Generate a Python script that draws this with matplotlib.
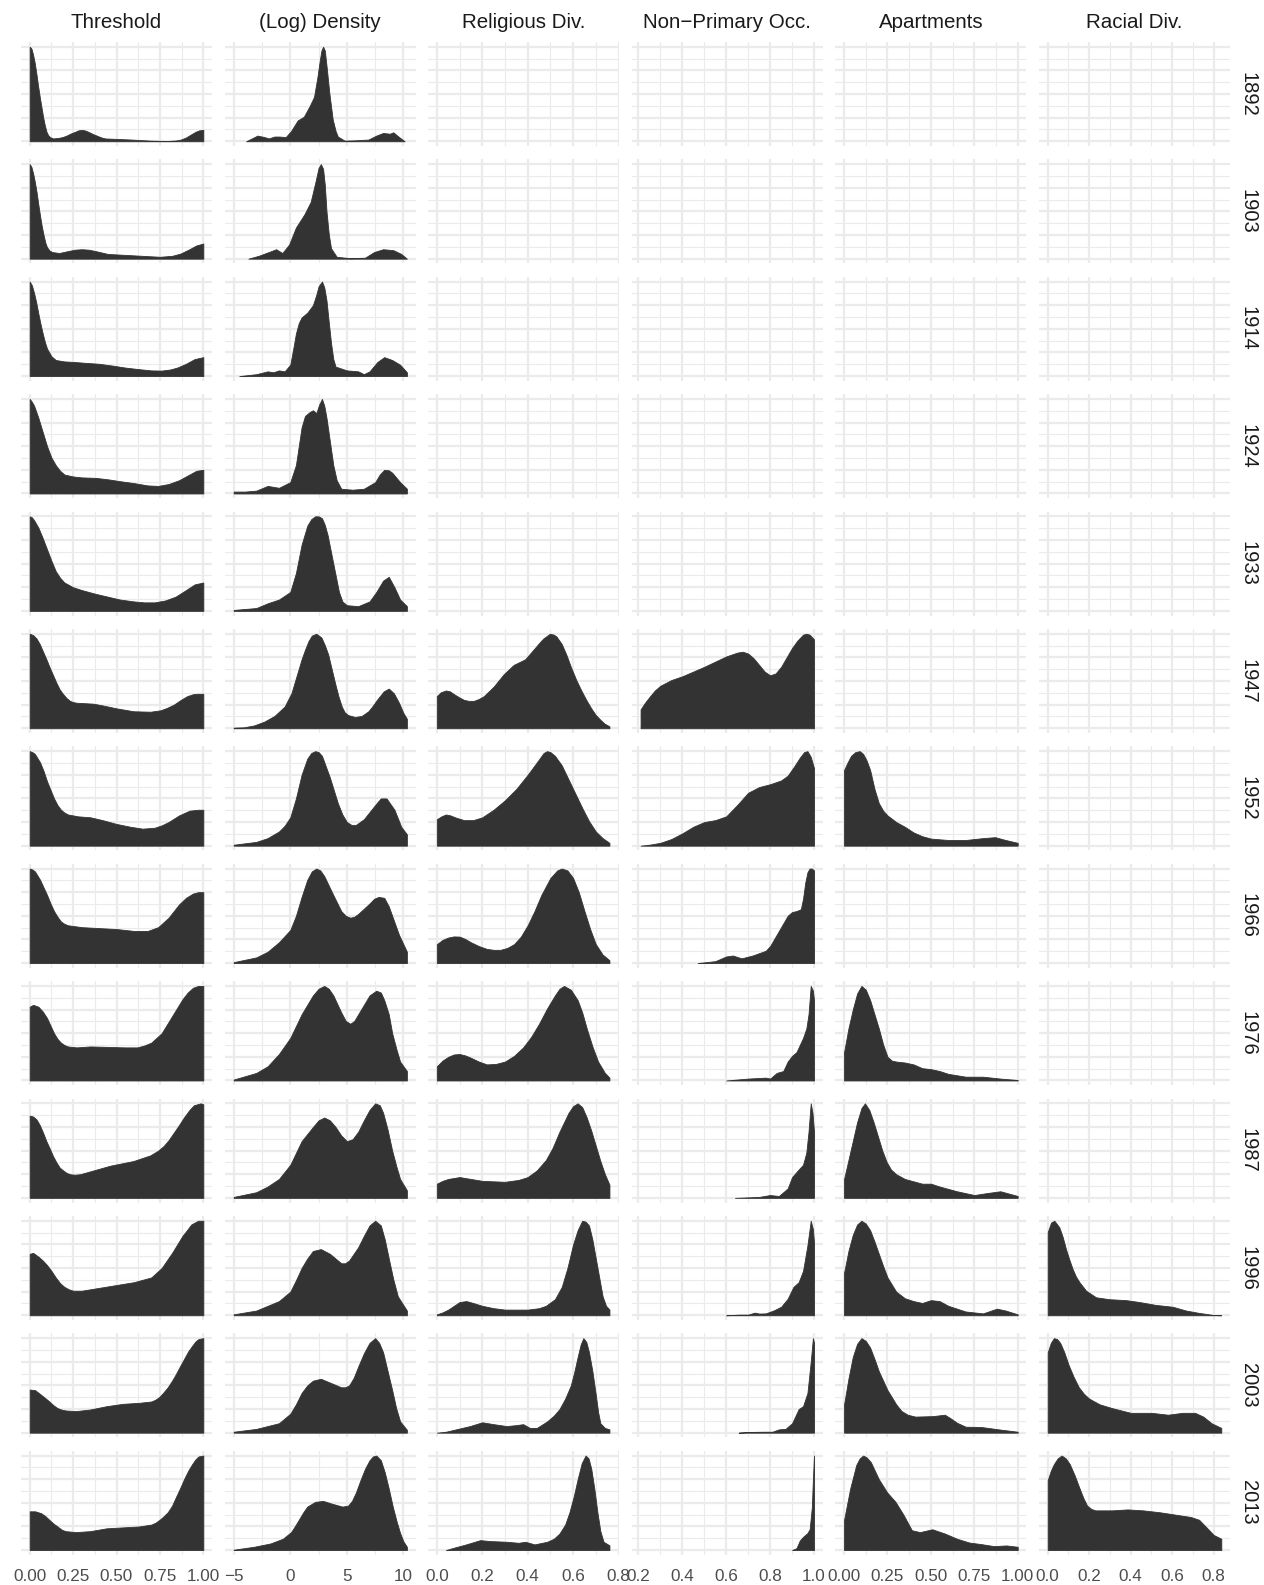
import numpy as np
import matplotlib.pyplot as plt

plt.rcParams['font.family'] = ['Liberation Sans', 'DejaVu Sans']

# %% facet labels
columns = ["Threshold", "(Log) Density", "Religious Div.", "Non\u2212Primary Occ.", "Apartments", "Racial Div."]
years = ["1892", "1903", "1914", "1924", "1933", "1947", "1952", "1966", "1976", "1987", "1996", "2003", "2013"]

# %% scaled densities, (x, y) pairs, max = 1
thr_1892 = [(0, 1.0), (0.01, 0.98), (0.019, 0.92), (0.029, 0.83), (0.039, 0.71), (0.048, 0.59), (0.058, 0.47),
            (0.068, 0.36), (0.077, 0.26), (0.087, 0.17), (0.097, 0.10), (0.106, 0.066), (0.116, 0.045),
            (0.135, 0.03), (0.164, 0.035), (0.19, 0.045), (0.212, 0.06), (0.24, 0.085), (0.261, 0.10),
            (0.28, 0.115), (0.299, 0.12), (0.318, 0.115), (0.338, 0.10), (0.36, 0.08), (0.386, 0.06),
            (0.41, 0.042), (0.434, 0.03), (0.502, 0.025), (0.598, 0.017), (0.695, 0.007), (0.792, 0.003),
            (0.84, 0.008), (0.869, 0.017), (0.9, 0.04), (0.927, 0.07), (0.955, 0.1), (0.975, 0.115), (1.0, 0.12)]
thr_1903 = [(0, 1.0), (0.01, 0.97), (0.02, 0.9), (0.03, 0.81), (0.04, 0.7), (0.05, 0.57), (0.06, 0.45),
            (0.07, 0.34), (0.08, 0.25), (0.09, 0.17), (0.1, 0.12), (0.115, 0.085), (0.13, 0.07), (0.17, 0.06),
            (0.22, 0.08), (0.26, 0.095), (0.3, 0.1), (0.34, 0.095), (0.38, 0.08), (0.45, 0.05), (0.55, 0.04),
            (0.65, 0.03), (0.75, 0.02), (0.82, 0.03), (0.87, 0.055), (0.92, 0.1), (0.96, 0.14), (1.0, 0.16)]
thr_1914 = [(0, 1.0), (0.0125, 0.96), (0.025, 0.88), (0.0375, 0.78), (0.05, 0.66), (0.0625, 0.55), (0.075, 0.45),
            (0.0875, 0.36), (0.1, 0.29), (0.125, 0.21), (0.15, 0.17), (0.2, 0.155), (0.25, 0.15), (0.32, 0.14),
            (0.4, 0.13), (0.48, 0.11), (0.55, 0.09), (0.62, 0.075), (0.7, 0.06), (0.76, 0.058), (0.81, 0.07),
            (0.85, 0.09), (0.9, 0.13), (0.95, 0.18), (1.0, 0.2)]
thr_1924 = [(0, 1.0), (0.0125, 0.97), (0.025, 0.93), (0.05, 0.8), (0.075, 0.65), (0.1, 0.5), (0.125, 0.38),
            (0.15, 0.3), (0.175, 0.24), (0.2, 0.2), (0.25, 0.18), (0.3, 0.17), (0.38, 0.165), (0.45, 0.15),
            (0.52, 0.13), (0.6, 0.11), (0.68, 0.085), (0.74, 0.08), (0.8, 0.1), (0.86, 0.14), (0.92, 0.2),
            (0.96, 0.24), (1.0, 0.25)]
thr_1933 = [(0, 1.0), (0.0125, 0.99), (0.025, 0.96), (0.05, 0.88), (0.075, 0.77), (0.1, 0.65), (0.125, 0.53),
            (0.15, 0.42), (0.175, 0.35), (0.2, 0.3), (0.25, 0.25), (0.3, 0.22), (0.38, 0.18), (0.45, 0.15),
            (0.52, 0.12), (0.6, 0.1), (0.66, 0.09), (0.72, 0.09), (0.78, 0.11), (0.84, 0.15), (0.9, 0.22),
            (0.95, 0.28), (1.0, 0.3)]
thr_1947 = [(0, 1.0), (0.02, 0.985), (0.039, 0.95), (0.058, 0.89), (0.077, 0.81), (0.096, 0.73), (0.116, 0.64),
            (0.135, 0.56), (0.154, 0.48), (0.173, 0.41), (0.193, 0.36), (0.212, 0.32), (0.232, 0.29),
            (0.25, 0.277), (0.27, 0.27), (0.32, 0.265), (0.367, 0.26), (0.425, 0.24), (0.502, 0.21),
            (0.598, 0.18), (0.695, 0.175), (0.753, 0.19), (0.79, 0.215), (0.83, 0.25), (0.87, 0.3),
            (0.907, 0.34), (0.94, 0.36), (0.965, 0.365), (1.0, 0.365)]
thr_1952 = [(0, 1.0), (0.015, 0.99), (0.03, 0.97), (0.06, 0.88), (0.08, 0.79), (0.1, 0.68), (0.12, 0.59),
            (0.14, 0.5), (0.16, 0.43), (0.18, 0.38), (0.2, 0.35), (0.22, 0.33), (0.28, 0.31), (0.35, 0.3),
            (0.42, 0.27), (0.5, 0.23), (0.58, 0.2), (0.65, 0.18), (0.72, 0.19), (0.76, 0.215), (0.8, 0.25),
            (0.86, 0.32), (0.92, 0.37), (0.97, 0.38), (1.0, 0.38)]
thr_1966 = [(0, 1.0), (0.015, 0.99), (0.03, 0.97), (0.06, 0.88), (0.08, 0.8), (0.1, 0.72), (0.12, 0.63),
            (0.14, 0.55), (0.16, 0.49), (0.18, 0.44), (0.2, 0.415), (0.22, 0.4), (0.3, 0.38), (0.4, 0.37),
            (0.5, 0.36), (0.6, 0.34), (0.68, 0.34), (0.74, 0.38), (0.8, 0.48), (0.86, 0.62), (0.9, 0.69),
            (0.94, 0.735), (0.97, 0.75), (1.0, 0.75)]
thr_1976 = [(0, 0.78), (0.02, 0.8), (0.05, 0.78), (0.075, 0.73), (0.1, 0.66), (0.12, 0.58), (0.14, 0.5),
            (0.16, 0.44), (0.18, 0.4), (0.2, 0.375), (0.22, 0.36), (0.27, 0.35), (0.35, 0.36), (0.45, 0.355),
            (0.55, 0.35), (0.62, 0.35), (0.66, 0.37), (0.7, 0.4), (0.76, 0.5), (0.82, 0.68), (0.88, 0.86),
            (0.91, 0.93), (0.94, 0.98), (0.97, 1.0), (1.0, 1.0)]
thr_1987 = [(0, 0.87), (0.02, 0.86), (0.039, 0.83), (0.058, 0.77), (0.077, 0.69), (0.096, 0.6), (0.116, 0.52),
            (0.135, 0.44), (0.154, 0.375), (0.173, 0.32), (0.193, 0.29), (0.212, 0.265), (0.232, 0.25),
            (0.26, 0.245), (0.29, 0.25), (0.367, 0.29), (0.463, 0.34), (0.598, 0.39), (0.695, 0.45),
            (0.74, 0.5), (0.772, 0.55), (0.8, 0.61), (0.83, 0.69), (0.86, 0.77), (0.888, 0.85), (0.92, 0.93),
            (0.946, 0.98), (0.985, 1.0), (1.0, 0.99)]
thr_1996 = [(0, 0.65), (0.02, 0.66), (0.05, 0.62), (0.075, 0.58), (0.1, 0.53), (0.125, 0.47), (0.15, 0.4),
            (0.175, 0.34), (0.2, 0.3), (0.225, 0.275), (0.25, 0.26), (0.3, 0.26), (0.4, 0.29), (0.5, 0.32),
            (0.6, 0.35), (0.7, 0.4), (0.76, 0.5), (0.82, 0.66), (0.88, 0.84), (0.91, 0.91), (0.93, 0.96),
            (0.97, 1.0), (1.0, 1.0)]
thr_2003 = [(0, 0.456), (0.031, 0.45), (0.066, 0.40), (0.09, 0.365), (0.113, 0.33), (0.137, 0.29), (0.16, 0.26),
            (0.185, 0.243), (0.207, 0.235), (0.266, 0.228), (0.348, 0.245), (0.442, 0.28), (0.536, 0.305),
            (0.631, 0.316), (0.701, 0.33), (0.725, 0.35), (0.748, 0.38), (0.77, 0.425), (0.795, 0.48),
            (0.82, 0.55), (0.842, 0.62), (0.865, 0.7), (0.889, 0.78), (0.913, 0.86), (0.936, 0.92),
            (0.955, 0.965), (0.972, 0.99), (1.0, 1.0)]
thr_2013 = [(0, 0.41), (0.031, 0.41), (0.066, 0.39), (0.09, 0.36), (0.113, 0.32), (0.137, 0.28), (0.16, 0.25),
            (0.185, 0.215), (0.207, 0.2), (0.266, 0.19), (0.348, 0.2), (0.442, 0.23), (0.536, 0.24),
            (0.631, 0.25), (0.701, 0.27), (0.725, 0.29), (0.748, 0.32), (0.77, 0.355), (0.795, 0.40),
            (0.82, 0.47), (0.842, 0.56), (0.865, 0.65), (0.889, 0.75), (0.913, 0.84), (0.936, 0.91),
            (0.955, 0.96), (0.972, 0.99), (1.0, 1.0)]

ld_1892 = [(-3.9, 0.0), (-3.4, 0.03), (-2.9, 0.06), (-2.3, 0.045), (-1.9, 0.03), (-1.4, 0.05), (-1.0, 0.05),
           (-0.4, 0.045), (0.05, 0.105), (0.65, 0.22), (1.2, 0.26), (1.7, 0.37), (2.1, 0.47), (2.4, 0.68),
           (2.6, 0.85), (2.75, 0.96), (2.9, 1.0), (3.05, 0.96), (3.2, 0.8), (3.45, 0.51), (3.75, 0.23),
           (4.0, 0.11), (4.2, 0.05), (4.8, 0.007), (5.7, 0.01), (6.9, 0.018), (7.6, 0.06), (8.2, 0.088),
           (8.8, 0.08), (9.1, 0.095), (9.55, 0.05), (10.1, 0.0)]
ld_1903 = [(-3.7, 0.0), (-2.8, 0.03), (-1.9, 0.07), (-1.25, 0.1), (-0.7, 0.06), (-0.1, 0.15), (0.5, 0.33),
           (1.25, 0.47), (1.8, 0.6), (2.2, 0.8), (2.5, 0.96), (2.7, 1.0), (2.9, 0.95), (3.05, 0.78), (3.2, 0.5),
           (3.4, 0.26), (3.6, 0.11), (4.1, 0.02), (5.3, 0.005), (6.6, 0.01), (7.4, 0.07), (8.2, 0.1), (9.1, 0.09),
           (9.8, 0.05), (10.3, 0.0)]
ld_1914 = [(-4.5, 0.0), (-3, 0.02), (-2, 0.05), (-1.5, 0.04), (-1, 0.06), (-0.5, 0.05), (0, 0.12), (0.25, 0.28),
           (0.5, 0.45), (0.75, 0.56), (1.0, 0.62), (1.5, 0.67), (2.0, 0.75), (2.3, 0.86), (2.5, 0.95), (2.8, 1.0),
           (3.0, 0.94), (3.2, 0.8), (3.4, 0.57), (3.6, 0.35), (3.8, 0.18), (4.0, 0.1), (5.0, 0.06), (6.0, 0.05),
           (6.5, 0.02), (7.0, 0.05), (7.7, 0.15), (8.3, 0.2), (9.0, 0.17), (9.7, 0.12), (10.3, 0.04)]
ld_1924 = [(-5, 0.02), (-4, 0.02), (-3, 0.03), (-2, 0.08), (-1, 0.06), (0, 0.12), (0.5, 0.3), (0.75, 0.5),
           (1.0, 0.7), (1.3, 0.82), (1.7, 0.86), (2.0, 0.88), (2.3, 0.85), (2.55, 0.94), (2.8, 1.0), (3.0, 0.93),
           (3.2, 0.8), (3.5, 0.55), (3.8, 0.3), (4.1, 0.14), (4.5, 0.05), (5.5, 0.04), (6.5, 0.05), (7.5, 0.12),
           (7.9, 0.2), (8.3, 0.25), (8.7, 0.245), (9.0, 0.22), (9.7, 0.12), (10.3, 0.05)]
ld_1933 = [(-5, 0.01), (-3, 0.03), (-2, 0.08), (-1, 0.12), (0, 0.2), (0.5, 0.4), (1, 0.7), (1.5, 0.9),
           (1.85, 0.97), (2.2, 1.0), (2.5, 1.0), (2.8, 0.98), (3.05, 0.91), (3.3, 0.8), (3.8, 0.5), (4.3, 0.2),
           (4.6, 0.1), (5, 0.06), (6, 0.05), (7, 0.1), (7.6, 0.2), (8.2, 0.32), (8.7, 0.36), (9.2, 0.25),
           (9.7, 0.12), (10.3, 0.05)]
ld_1947 = [(-5, 0.007), (-4.1, 0.01), (-3.2, 0.03), (-2.3, 0.07), (-1.4, 0.13), (-0.5, 0.23), (0.1, 0.37),
           (0.4, 0.49), (0.7, 0.61), (1.0, 0.73), (1.3, 0.83), (1.6, 0.92), (1.9, 0.98), (2.3, 1.0), (2.75, 0.96),
           (3.05, 0.88), (3.35, 0.78), (3.65, 0.63), (3.95, 0.48), (4.25, 0.34), (4.55, 0.23), (4.8, 0.17),
           (5.1, 0.14), (5.7, 0.12), (6.3, 0.13), (6.9, 0.18), (7.3, 0.24), (7.65, 0.30), (8.25, 0.39),
           (8.7, 0.42), (9.15, 0.37), (9.6, 0.27), (10.0, 0.16), (10.3, 0.1)]
ld_1952 = [(-5, 0.01), (-3, 0.04), (-2, 0.08), (-1, 0.15), (-0.5, 0.21), (0, 0.3), (0.5, 0.5), (1, 0.75),
           (1.5, 0.92), (1.85, 0.98), (2.2, 1.0), (2.5, 0.99), (2.8, 0.95), (3.5, 0.72), (4.2, 0.45), (4.6, 0.33),
           (5, 0.25), (5.4, 0.22), (5.8, 0.22), (6.5, 0.28), (7.3, 0.4), (7.7, 0.46), (8, 0.5), (8.5, 0.5),
           (9.2, 0.38), (9.8, 0.2), (10.3, 0.12)]
ld_1966 = [(-5, 0.01), (-3, 0.06), (-2, 0.12), (-1, 0.22), (0, 0.35), (0.5, 0.5), (1, 0.7), (1.5, 0.88),
           (1.9, 0.97), (2.3, 1.0), (2.65, 0.98), (3, 0.92), (3.8, 0.72), (4.5, 0.55), (4.9, 0.5), (5.3, 0.48),
           (5.65, 0.49), (6, 0.52), (7, 0.63), (7.4, 0.68), (7.8, 0.7), (8.3, 0.69), (8.7, 0.6), (9, 0.5),
           (9.6, 0.3), (10.3, 0.12)]
ld_1976 = [(-5, 0.01), (-3, 0.08), (-2, 0.15), (-1, 0.28), (0, 0.45), (1, 0.7), (2, 0.9), (2.5, 0.97), (3, 1.0),
           (3.4, 0.97), (3.8, 0.9), (4.5, 0.72), (4.9, 0.63), (5.3, 0.6), (5.65, 0.63), (6, 0.7), (7, 0.9),
           (7.6, 0.95), (8.0, 0.93), (8.3, 0.85), (8.7, 0.7), (9, 0.5), (9.4, 0.32), (9.7, 0.2), (10.3, 0.1)]
ld_1987 = [(-5, 0.01), (-3, 0.06), (-2, 0.12), (-1, 0.2), (0, 0.35), (1, 0.6), (2, 0.75), (2.5, 0.82), (3, 0.85),
           (3.5, 0.82), (4, 0.75), (4.5, 0.66), (5, 0.6), (5.5, 0.62), (6, 0.7), (6.5, 0.82), (7, 0.93), (7.5, 1.0),
           (7.9, 0.98), (8.2, 0.9), (8.6, 0.72), (9, 0.5), (9.4, 0.32), (9.7, 0.2), (10.3, 0.08)]
ld_1996 = [(-5, 0.01), (-3, 0.05), (-1, 0.15), (0, 0.25), (0.5, 0.37), (1, 0.5), (1.5, 0.6), (2, 0.68),
           (2.7, 0.7), (3.5, 0.65), (4.5, 0.55), (4.85, 0.55), (5.2, 0.58), (6, 0.72), (6.5, 0.84), (7, 0.95),
           (7.5, 1.0), (8, 0.95), (8.35, 0.8), (8.7, 0.6), (9.1, 0.38), (9.5, 0.2), (10.3, 0.05)]
ld_2003 = [(-5, 0.01), (-3, 0.04), (-1, 0.1), (0, 0.2), (0.5, 0.3), (1, 0.42), (1.5, 0.5), (2, 0.55), (2.7, 0.57),
           (3.5, 0.53), (4.5, 0.48), (4.85, 0.48), (5.2, 0.5), (5.6, 0.58), (6, 0.7), (6.5, 0.84), (7, 0.95),
           (7.5, 1.0), (7.85, 0.95), (8.2, 0.85), (8.6, 0.65), (9, 0.45), (9.35, 0.26), (9.7, 0.12), (10.3, 0.03)]
ld_2013 = [(-5, 0.004), (-3.2, 0.035), (-1.75, 0.07), (-0.65, 0.12), (0.07, 0.19), (0.45, 0.26), (0.8, 0.33),
           (1.15, 0.4), (1.5, 0.46), (2.2, 0.51), (2.9, 0.52), (3.7, 0.49), (4.6, 0.46), (5.1, 0.47), (5.45, 0.52),
           (5.8, 0.61), (6.2, 0.74), (6.6, 0.86), (7.0, 0.95), (7.3, 0.99), (7.6, 1.0), (8.0, 0.95), (8.35, 0.82),
           (8.7, 0.65), (9.05, 0.46), (9.4, 0.30), (9.7, 0.18), (10.0, 0.09), (10.3, 0.035)]

rel_1947 = [(0, 0.34), (0.017, 0.38), (0.04, 0.40), (0.058, 0.39), (0.076, 0.36), (0.1, 0.325), (0.12, 0.30),
            (0.14, 0.29), (0.163, 0.29), (0.185, 0.31), (0.207, 0.34), (0.25, 0.44), (0.294, 0.57), (0.338, 0.67),
            (0.389, 0.73), (0.425, 0.83), (0.45, 0.9), (0.469, 0.95), (0.498, 1.0), (0.515, 0.99), (0.527, 0.97),
            (0.55, 0.89), (0.57, 0.78), (0.59, 0.65), (0.614, 0.51), (0.636, 0.4), (0.658, 0.30), (0.68, 0.21),
            (0.70, 0.14), (0.72, 0.09), (0.738, 0.05), (0.76, 0.02)]
rel_1952 = [(0, 0.28), (0.02, 0.31), (0.04, 0.33), (0.06, 0.32), (0.08, 0.3), (0.12, 0.27), (0.16, 0.27),
            (0.2, 0.3), (0.25, 0.38), (0.3, 0.48), (0.35, 0.6), (0.4, 0.75), (0.44, 0.88), (0.47, 0.98),
            (0.485, 1.0), (0.5, 0.99), (0.52, 0.95), (0.55, 0.85), (0.58, 0.7), (0.61, 0.55), (0.64, 0.4),
            (0.67, 0.26), (0.7, 0.15), (0.73, 0.08), (0.76, 0.03)]
rel_1966 = [(0, 0.2), (0.025, 0.245), (0.05, 0.27), (0.075, 0.282), (0.1, 0.28), (0.125, 0.255), (0.15, 0.22),
            (0.185, 0.18), (0.22, 0.15), (0.25, 0.14), (0.28, 0.14), (0.31, 0.16), (0.34, 0.2), (0.37, 0.28),
            (0.4, 0.4), (0.43, 0.55), (0.46, 0.72), (0.5, 0.9), (0.53, 0.98), (0.55, 1.0), (0.575, 0.98),
            (0.6, 0.9), (0.625, 0.75), (0.65, 0.55), (0.675, 0.36), (0.7, 0.2), (0.73, 0.09), (0.76, 0.03)]
rel_1976 = [(0, 0.15), (0.025, 0.21), (0.05, 0.25), (0.075, 0.275), (0.1, 0.28), (0.125, 0.265), (0.15, 0.24),
            (0.185, 0.2), (0.22, 0.17), (0.26, 0.175), (0.3, 0.2), (0.34, 0.26), (0.38, 0.35), (0.415, 0.46),
            (0.45, 0.6), (0.485, 0.76), (0.52, 0.9), (0.54, 0.97), (0.56, 1.0), (0.59, 0.96), (0.62, 0.85),
            (0.64, 0.72), (0.66, 0.55), (0.685, 0.36), (0.71, 0.2), (0.74, 0.08), (0.76, 0.03)]
rel_1987 = [(0, 0.15), (0.025, 0.18), (0.05, 0.2), (0.1, 0.22), (0.15, 0.2), (0.2, 0.18), (0.3, 0.17),
            (0.36, 0.19), (0.4, 0.22), (0.44, 0.29), (0.48, 0.4), (0.51, 0.53), (0.54, 0.7), (0.56, 0.8),
            (0.58, 0.9), (0.6, 0.97), (0.62, 1.0), (0.64, 0.96), (0.66, 0.85), (0.68, 0.71), (0.7, 0.55),
            (0.72, 0.39), (0.74, 0.25), (0.76, 0.14)]
rel_1996 = [(0, 0.01), (0.025, 0.03), (0.05, 0.06), (0.075, 0.1), (0.1, 0.14), (0.13, 0.15), (0.16, 0.13),
            (0.2, 0.1), (0.25, 0.075), (0.3, 0.06), (0.4, 0.06), (0.45, 0.075), (0.48, 0.1), (0.52, 0.17),
            (0.55, 0.3), (0.575, 0.5), (0.6, 0.75), (0.62, 0.9), (0.64, 1.0), (0.655, 0.99), (0.67, 0.95),
            (0.685, 0.8), (0.7, 0.6), (0.715, 0.4), (0.73, 0.2), (0.745, 0.1), (0.76, 0.06)]
rel_2003 = [(0, 0.0), (0.04, 0.01), (0.093, 0.04), (0.146, 0.07), (0.2, 0.11), (0.25, 0.09), (0.307, 0.07),
            (0.35, 0.08), (0.38, 0.09), (0.41, 0.05), (0.44, 0.05), (0.486, 0.12), (0.515, 0.18), (0.54, 0.25),
            (0.565, 0.36), (0.59, 0.5), (0.605, 0.64), (0.62, 0.8), (0.633, 0.93), (0.645, 1.0), (0.658, 0.96),
            (0.67, 0.85), (0.685, 0.65), (0.7, 0.4), (0.71, 0.22), (0.72, 0.1), (0.74, 0.05), (0.76, 0.035)]
rel_2013 = [(0.04, 0.0), (0.075, 0.025), (0.129, 0.06), (0.191, 0.105), (0.236, 0.095), (0.307, 0.088),
            (0.36, 0.077), (0.39, 0.088), (0.43, 0.06), (0.486, 0.088), (0.515, 0.12), (0.54, 0.175),
            (0.565, 0.27), (0.584, 0.40), (0.603, 0.57), (0.62, 0.75), (0.638, 0.92), (0.655, 1.0),
            (0.668, 0.97), (0.68, 0.86), (0.694, 0.64), (0.707, 0.40), (0.72, 0.2), (0.734, 0.088), (0.76, 0.05)]

np_1947 = [(0.21, 0.2), (0.23, 0.27), (0.25, 0.33), (0.275, 0.4), (0.3, 0.45), (0.35, 0.51), (0.4, 0.55),
           (0.5, 0.65), (0.6, 0.76), (0.65, 0.8), (0.675, 0.81), (0.7, 0.79), (0.725, 0.74), (0.75, 0.67),
           (0.775, 0.6), (0.8, 0.56), (0.825, 0.58), (0.85, 0.65), (0.875, 0.75), (0.9, 0.85), (0.925, 0.93),
           (0.95, 0.99), (0.965, 1.0), (0.98, 0.99), (1.0, 0.94)]
np_1952 = [(0.21, 0.0), (0.25, 0.01), (0.3, 0.03), (0.35, 0.07), (0.4, 0.13), (0.45, 0.2), (0.5, 0.25),
           (0.55, 0.27), (0.6, 0.31), (0.65, 0.43), (0.7, 0.56), (0.75, 0.62), (0.8, 0.65), (0.85, 0.69),
           (0.88, 0.74), (0.91, 0.84), (0.935, 0.93), (0.955, 0.99), (0.97, 1.0), (0.985, 0.94), (1.0, 0.82)]
np_1966 = [(0.47, 0.0), (0.55, 0.02), (0.6, 0.07), (0.63, 0.08), (0.67, 0.05), (0.72, 0.08), (0.78, 0.13),
           (0.8, 0.18), (0.83, 0.3), (0.855, 0.4), (0.88, 0.5), (0.9, 0.54), (0.92, 0.55), (0.94, 0.57),
           (0.95, 0.68), (0.96, 0.85), (0.97, 0.96), (0.98, 1.0), (0.99, 1.0), (1.0, 0.98)]
np_1976 = [(0.6, 0.0), (0.7, 0.02), (0.78, 0.03), (0.8, 0.02), (0.83, 0.08), (0.86, 0.1), (0.88, 0.2),
           (0.9, 0.26), (0.92, 0.3), (0.95, 0.45), (0.965, 0.55), (0.975, 0.7), (0.985, 1.0), (0.995, 0.95),
           (1.0, 0.85)]
np_1987 = [(0.64, 0.0), (0.75, 0.01), (0.8, 0.03), (0.84, 0.02), (0.88, 0.1), (0.9, 0.22), (0.93, 0.3),
           (0.95, 0.35), (0.965, 0.48), (0.975, 0.7), (0.985, 1.0), (0.993, 0.9), (1.0, 0.7)]
np_1996 = [(0.6, 0.0), (0.66, 0.007), (0.7, 0.007), (0.73, 0.028), (0.75, 0.018), (0.78, 0.02), (0.815, 0.05),
           (0.85, 0.09), (0.88, 0.175), (0.906, 0.3), (0.93, 0.35), (0.95, 0.47), (0.97, 0.74), (0.985, 1.0),
           (0.995, 0.91), (1.0, 0.77)]
np_2003 = [(0.657, 0.0), (0.695, 0.007), (0.77, 0.01), (0.81, 0.01), (0.84, 0.035), (0.87, 0.04), (0.9, 0.1),
           (0.93, 0.25), (0.95, 0.28), (0.97, 0.42), (0.985, 0.75), (0.995, 1.0), (1.0, 0.95)]
np_2013 = [(0.9, 0.0), (0.92, 0.02), (0.935, 0.1), (0.95, 0.14), (0.97, 0.18), (0.98, 0.22), (0.99, 0.45),
           (0.995, 0.75), (1.0, 1.0)]

apt_1952 = [(0, 0.8), (0.02, 0.88), (0.04, 0.95), (0.065, 0.99), (0.09, 1.0), (0.11, 0.97), (0.13, 0.9),
            (0.15, 0.8), (0.175, 0.6), (0.2, 0.45), (0.225, 0.37), (0.25, 0.32), (0.3, 0.25), (0.35, 0.2),
            (0.4, 0.14), (0.45, 0.1), (0.5, 0.075), (0.6, 0.06), (0.7, 0.06), (0.8, 0.08), (0.87, 0.09),
            (0.93, 0.06), (1.0, 0.03)]
apt_1976 = [(0, 0.3), (0.025, 0.55), (0.05, 0.75), (0.075, 0.92), (0.1, 1.0), (0.125, 0.96), (0.15, 0.85),
            (0.175, 0.7), (0.2, 0.55), (0.225, 0.38), (0.25, 0.25), (0.275, 0.21), (0.3, 0.2), (0.35, 0.19),
            (0.4, 0.17), (0.45, 0.13), (0.5, 0.12), (0.55, 0.1), (0.6, 0.07), (0.7, 0.04), (0.8, 0.04),
            (0.9, 0.02), (1.0, 0.005)]
apt_1987 = [(0, 0.2), (0.025, 0.4), (0.05, 0.6), (0.075, 0.8), (0.1, 0.95), (0.12, 1.0), (0.145, 0.93),
            (0.17, 0.8), (0.195, 0.65), (0.22, 0.5), (0.245, 0.38), (0.27, 0.3), (0.3, 0.25), (0.35, 0.2),
            (0.45, 0.15), (0.5, 0.15), (0.55, 0.12), (0.65, 0.07), (0.75, 0.03), (0.82, 0.05), (0.9, 0.07),
            (0.96, 0.04), (1.0, 0.02)]
apt_1996 = [(0, 0.45), (0.025, 0.68), (0.05, 0.85), (0.075, 0.96), (0.1, 1.0), (0.125, 0.97), (0.15, 0.9),
            (0.175, 0.78), (0.2, 0.65), (0.225, 0.52), (0.25, 0.4), (0.3, 0.25), (0.35, 0.18), (0.4, 0.15),
            (0.45, 0.13), (0.5, 0.16), (0.55, 0.15), (0.6, 0.1), (0.7, 0.04), (0.8, 0.02), (0.88, 0.07),
            (0.93, 0.05), (1.0, 0.01)]
apt_2003 = [(0, 0.3), (0.025, 0.57), (0.05, 0.8), (0.075, 0.94), (0.1, 1.0), (0.125, 0.97), (0.15, 0.9),
            (0.175, 0.78), (0.2, 0.65), (0.25, 0.45), (0.3, 0.3), (0.33, 0.23), (0.366, 0.19), (0.41, 0.17),
            (0.51, 0.175), (0.58, 0.19), (0.615, 0.15), (0.65, 0.105), (0.70, 0.063), (0.79, 0.06), (0.89, 0.035),
            (1.0, 0.01)]
apt_2013 = [(0, 0.32), (0.035, 0.65), (0.07, 0.9), (0.09, 0.97), (0.11, 1.0), (0.13, 0.98), (0.154, 0.93),
            (0.2, 0.75), (0.248, 0.61), (0.296, 0.51), (0.343, 0.37), (0.39, 0.21), (0.437, 0.19), (0.508, 0.22),
            (0.58, 0.175), (0.65, 0.12), (0.72, 0.08), (0.79, 0.063), (0.863, 0.042), (0.934, 0.049), (1.0, 0.035)]

rac_1996 = [(0, 0.88), (0.016, 0.98), (0.032, 1.0), (0.056, 0.93), (0.072, 0.83), (0.088, 0.70), (0.104, 0.59),
            (0.12, 0.49), (0.136, 0.41), (0.153, 0.35), (0.185, 0.26), (0.233, 0.19), (0.297, 0.17),
            (0.378, 0.16), (0.442, 0.14), (0.52, 0.11), (0.603, 0.09), (0.667, 0.05), (0.73, 0.025),
            (0.796, 0.004), (0.836, 0.0)]
rac_2003 = [(0, 0.85), (0.015, 0.95), (0.03, 1.0), (0.045, 0.99), (0.06, 0.95), (0.08, 0.85), (0.1, 0.72),
            (0.125, 0.59), (0.15, 0.48), (0.175, 0.41), (0.2, 0.36), (0.25, 0.3), (0.31, 0.26), (0.4, 0.21),
            (0.5, 0.21), (0.58, 0.19), (0.65, 0.21), (0.71, 0.21), (0.75, 0.17), (0.79, 0.1), (0.837, 0.05)]
rac_2013 = [(0, 0.74), (0.015, 0.84), (0.03, 0.91), (0.048, 0.97), (0.067, 1.0), (0.087, 0.97), (0.106, 0.91),
            (0.13, 0.79), (0.154, 0.65), (0.172, 0.55), (0.19, 0.47), (0.21, 0.435), (0.23, 0.42), (0.31, 0.42),
            (0.385, 0.43), (0.46, 0.42), (0.54, 0.40), (0.615, 0.375), (0.69, 0.35), (0.73, 0.32), (0.77, 0.23),
            (0.8, 0.16), (0.837, 0.12)]

# %% x axes per column
x_major = [[0, 0.25, 0.5, 0.75, 1.0], [-5, 0, 5, 10], [0, 0.2, 0.4, 0.6, 0.8],
           [0.2, 0.4, 0.6, 0.8, 1.0], [0, 0.25, 0.5, 0.75, 1.0], [0, 0.2, 0.4, 0.6, 0.8]]
x_minor = [[0.125, 0.375, 0.625, 0.875], [-2.5, 2.5, 7.5], [0.1, 0.3, 0.5, 0.7],
           [0.3, 0.5, 0.7, 0.9], [0.125, 0.375, 0.625, 0.875], [0.1, 0.3, 0.5, 0.7]]
x_labels = [["0.00", "0.25", "0.50", "0.75", "1.00"], ["\u22125", "0", "5", "10"],
            ["0.0", "0.2", "0.4", "0.6", "0.8"], ["0.2", "0.4", "0.6", "0.8", "1.0"],
            ["0.00", "0.25", "0.50", "0.75", "1.00"], ["0.0", "0.2", "0.4", "0.6", "0.8"]]
x_lims = [(-0.05, 1.05), (-5.8, 11.07), (-0.038, 0.803), (0.17, 1.04), (-0.05, 1.05), (-0.042, 0.879)]

curves = [
    {"1892": thr_1892, "1903": thr_1903, "1914": thr_1914, "1924": thr_1924, "1933": thr_1933,
     "1947": thr_1947, "1952": thr_1952, "1966": thr_1966, "1976": thr_1976, "1987": thr_1987,
     "1996": thr_1996, "2003": thr_2003, "2013": thr_2013},
    {"1892": ld_1892, "1903": ld_1903, "1914": ld_1914, "1924": ld_1924, "1933": ld_1933,
     "1947": ld_1947, "1952": ld_1952, "1966": ld_1966, "1976": ld_1976, "1987": ld_1987,
     "1996": ld_1996, "2003": ld_2003, "2013": ld_2013},
    {"1947": rel_1947, "1952": rel_1952, "1966": rel_1966, "1976": rel_1976, "1987": rel_1987,
     "1996": rel_1996, "2003": rel_2003, "2013": rel_2013},
    {"1947": np_1947, "1952": np_1952, "1966": np_1966, "1976": np_1976, "1987": np_1987,
     "1996": np_1996, "2003": np_2003, "2013": np_2013},
    {"1952": apt_1952, "1976": apt_1976, "1987": apt_1987, "1996": apt_1996, "2003": apt_2003, "2013": apt_2013},
    {"1996": rac_1996, "2003": rac_2003, "2013": rac_2013},
]

# %%
W, H = 1264, 1585
fig = plt.figure(figsize=(W / 100, H / 100), dpi=100)
fig.patch.set_facecolor("white")

pw, ph = 191, 104
for r, yr in enumerate(years):
    top = 42 + r * 117.4
    for c in range(len(columns)):
        left = 21 + c * 203.6
        ax = fig.add_axes([left / W, 1 - (top + ph) / H, pw / W, ph / H])
        ax.set_xlim(*x_lims[c])
        ax.set_ylim(-0.05, 1.05)
        ax.set_xticks(x_major[c])
        ax.set_xticks(x_minor[c], minor=True)
        ax.set_yticks([0, 0.25, 0.5, 0.75, 1.0])
        ax.set_yticks([0.125, 0.375, 0.625, 0.875], minor=True)
        ax.grid(which="major", color="#EBEBEB", lw=1.6)
        ax.grid(which="minor", color="#EBEBEB", lw=0.8)
        ax.set_axisbelow(True)
        for s in ax.spines.values():
            s.set_visible(False)
        ax.tick_params(which="both", length=0, labelleft=False)
        if r == len(years) - 1:
            ax.set_xticklabels(x_labels[c], fontsize=12.3, color="#4D4D4D")
            ax.tick_params(axis="x", pad=10)
        else:
            ax.tick_params(axis="x", labelbottom=False)
        pts = curves[c].get(yr)
        if pts:
            xs = np.array([p[0] for p in pts])
            ys = np.array([p[1] for p in pts])
            ax.fill_between(xs, 0, ys, color="#333333", lw=0.6)
        if r == 0:
            fig.text((left + pw / 2) / W, 1 - 22 / H, columns[c], ha="center", va="center",
                     fontsize=14.8, color="#1A1A1A")
    fig.text(1248 / W, 1 - (top + ph / 2) / H, yr, rotation=270, ha="center", va="center",
             fontsize=14.5, color="#1A1A1A")

plt.savefig("out.png", dpi=100)
